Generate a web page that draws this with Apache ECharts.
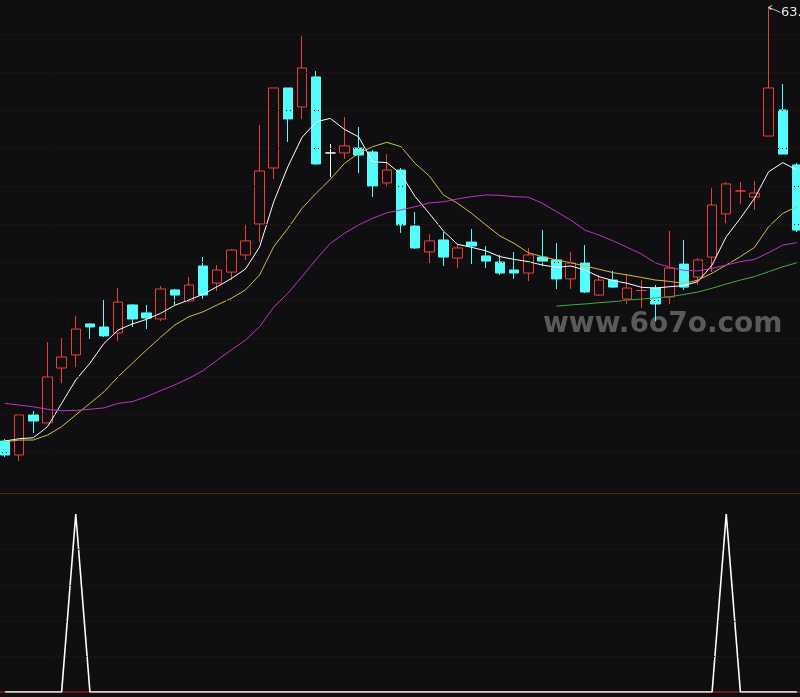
<html>
  <head>
    <meta charset="utf-8" />
    <title>K线</title>
    <style>
      html, body { margin: 0; padding: 0; background: #0f0f12; overflow: hidden; }
    </style>
  </head>
  <body>
    <div id="kline" style="width: 806px; height: 697px; margin-left: -2px"></div>
    <script src="https://cdn.jsdelivr.net/npm/echarts@6/dist/echarts.min.js"></script>
    <script type="text/javascript">
      // 日期（横轴不显示）
      var categories = ["1", "2", "3", "4", "5", "6", "7", "8", "9", "10",
        "11", "12", "13", "14", "15", "16", "17", "18", "19", "20",
        "21", "22", "23", "24", "25", "26", "27", "28", "29", "30",
        "31", "32", "33", "34", "35", "36", "37", "38", "39", "40",
        "41", "42", "43", "44", "45", "46", "47", "48", "49", "50",
        "51", "52", "53", "54", "55", "56", "57"];
      // [开, 收, 低, 高]
      var candles = [
        [40.58, 39.84, 39.74, 40.68], [39.84, 41.95, 39.53, 41.95], [41.95, 41.63, 41.0, 42.16],
        [41.53, 43.95, 41.53, 45.79], [44.42, 45.0, 43.63, 46.0], [45.11, 46.47, 44.47, 47.16],
        [46.74, 46.58, 45.95, 46.79], [46.58, 46.11, 46.05, 48.0], [46.26, 47.89, 45.84, 48.63],
        [47.74, 47.0, 46.58, 47.79], [47.32, 47.05, 46.47, 47.74], [47.0, 48.58, 46.89, 48.74],
        [48.53, 48.26, 47.74, 48.58], [47.95, 48.79, 47.89, 49.21], [49.79, 48.26, 48.05, 50.26],
        [48.89, 49.58, 48.47, 49.84], [49.47, 50.63, 49.05, 50.68], [50.37, 51.11, 50.11, 51.95],
        [52.0, 54.79, 51.05, 57.21], [54.95, 59.16, 54.37, 59.16], [59.16, 57.53, 56.32, 59.16],
        [58.16, 60.21, 57.53, 61.89], [59.74, 55.16, 55.11, 60.05], [55.74, 55.74, 54.47, 56.21],
        [55.74, 56.11, 55.42, 57.63], [56.0, 55.63, 54.68, 57.11], [55.79, 54.0, 53.42, 55.89],
        [54.16, 54.84, 54.0, 55.68], [54.84, 51.95, 51.53, 54.95], [51.89, 50.74, 50.68, 52.63],
        [50.53, 51.11, 49.95, 51.47], [51.16, 50.26, 49.79, 51.58], [50.21, 50.74, 49.68, 50.95],
        [51.05, 50.84, 49.89, 51.74], [50.32, 50.05, 49.68, 50.84], [50.0, 49.42, 49.32, 50.37],
        [49.58, 49.42, 49.11, 50.53], [49.42, 50.37, 49.0, 50.74], [50.26, 50.05, 49.79, 51.68],
        [50.11, 49.11, 48.58, 51.0], [49.11, 49.95, 48.58, 50.53], [49.95, 48.42, 48.37, 50.89],
        [48.26, 49.05, 48.21, 49.32], [49.05, 48.68, 48.63, 49.53], [48.05, 48.63, 47.79, 49.37],
        [48.5, 48.5, 47.58, 49.05], [48.63, 47.79, 46.89, 48.79], [48.16, 49.68, 47.79, 51.63],
        [49.89, 48.68, 48.53, 51.16], [49.21, 50.11, 48.79, 50.21], [50.26, 53.0, 49.47, 53.89],
        [52.53, 54.11, 52.05, 54.21], [53.74, 53.74, 53.05, 54.21], [53.42, 53.63, 52.74, 54.26],
        [56.63, 59.16, 56.63, 63.42], [58.0, 55.68, 55.68, 59.37], [55.11, 51.68, 51.58, 55.21]
      ];
      var ma5 = [40.58, 40.7, 40.75, 41.33, 42.56, 43.79, 44.67, 45.72, 46.42, 46.74,
        46.98, 47.3, 47.72, 48.0, 48.3, 48.7, 49.13, 49.63, 50.79, 53.17,
        55.02, 56.56, 57.38, 57.56, 56.98, 56.59, 55.28, 55.23, 54.63, 53.44,
        52.56, 51.63, 50.93, 50.77, 50.59, 50.28, 50.14, 50.02, 49.84, 49.72,
        49.79, 49.58, 49.23, 49.02, 48.88, 48.67, 48.63, 48.7, 48.76, 48.97,
        49.84, 51.33, 52.3, 53.35, 54.75, 55.23, 54.84];
      var ma10 = [40.54, 40.63, 40.63, 40.89, 41.33, 41.95, 42.56, 43.17, 43.96, 44.67,
        45.37, 46.04, 46.68, 47.12, 47.38, 47.74, 48.09, 48.53, 49.32, 50.81,
        51.77, 52.83, 53.62, 54.35, 55.19, 55.72, 56.07, 56.3, 56.07, 55.19,
        54.53, 53.53, 53.09, 52.56, 51.95, 51.37, 50.98, 50.49, 50.28, 50.11,
        49.96, 49.79, 49.62, 49.44, 49.32, 49.19, 49.05, 48.98, 48.87, 49.05,
        49.41, 49.84, 50.28, 50.77, 51.86, 52.56, 52.91];
      var ma20 = [42.56, 42.47, 42.38, 42.25, 42.17, 42.19, 42.25, 42.32, 42.56, 42.65,
        42.91, 43.23, 43.53, 43.88, 44.28, 44.84, 45.37, 45.89, 46.59, 47.63,
        48.35, 49.23, 50.14, 50.98, 51.51, 51.95, 52.3, 52.59, 52.74, 52.91,
        53.11, 53.17, 53.32, 53.44, 53.53, 53.51, 53.44, 53.41, 53.09, 52.65,
        52.21, 51.68, 51.42, 51.11, 50.77, 50.42, 49.95, 49.72, 49.56, 49.53,
        49.67, 49.84, 50.02, 50.14, 50.49, 50.89, 51.02];
      var ma60 = [null, null, null, null, null, null, null, null, null, null,
        null, null, null, null, null, null, null, null, null, null,
        null, null, null, null, null, null, null, null, null, null,
        null, null, null, null, null, null, null, null, null, 47.68,
        47.74, 47.79, 47.86, 47.91, 48.0, 48.05, 48.11, 48.17, 48.29, 48.42,
        48.62, 48.84, 49.05, 49.23, 49.49, 49.75, 49.96];
      // 副图信号
      var signal = [0, 0, 0, 0, 0, 100, 0, 0, 0, 0,
        0, 0, 0, 0, 0, 0, 0, 0, 0, 0,
        0, 0, 0, 0, 0, 0, 0, 0, 0, 0,
        0, 0, 0, 0, 0, 0, 0, 0, 0, 0,
        0, 0, 0, 0, 0, 0, 0, 0, 0, 0,
        0, 100, 0, 0, 0, 0, 0];
      // 网格价位
      var priceLevels = [40, 42, 44, 46, 48, 50, 52, 54, 56, 58, 60, 62];
      var signalLevels = [20, 40, 60, 80];
      var signalMax = 111.8;

      var bg = "#0f0f12";
      var upColor = "#ee3d3a";
      var downColor = "#54fcfc";
      var gridDot = "#4a1616";
      var frameColor = "#6e1616";
      // 十字星颜色
      var dojiColor = { 23: "#ffffff", 45: upColor, 52: upColor };

      var candleData = candles.map(function(c, i) {
        if (dojiColor[i]) {
          return {
            value: c,
            itemStyle: {
              color: bg, color0: bg,
              borderColor: dojiColor[i], borderColor0: dojiColor[i],
              borderColorDoji: dojiColor[i]
            }
          };
        }
        return c;
      });

      function levelLines(levels) {
        return {
          silent: true, symbol: "none", label: { show: false },
          lineStyle: { color: gridDot, type: [1, 3], width: 1 },
          data: levels.map(function(v) { return { yAxis: v }; })
        };
      }

      // 副图：虚线网格 + 顶部分隔线
      var signalLines = levelLines(signalLevels);
      signalLines.data.push({
        yAxis: signalMax,
        lineStyle: { color: frameColor, type: "solid", width: 1 }
      });

      var kChart = echarts.init(document.getElementById("kline"));
      var option = {
        backgroundColor: bg,
        animation: false,
        graphic: [
          {
            type: "text",
            left: 545,
            top: 311,
            z: 1,
            style: {
              text: "www.6o7o.com",
              fill: "#5a5a5a",
              font: 'bold 28px "DejaVu Sans"'
            }
          }
        ],
        grid: [
          { left: 0, right: 0, top: 0, height: 490 },
          { left: 0, right: 0, top: 493, height: 199 }
        ],
        xAxis: [
          {
            type: "category", gridIndex: 0, data: categories, boundaryGap: true,
            axisLine: { show: false },
            axisTick: { show: false }, axisLabel: { show: false }, splitLine: { show: false }
          },
          {
            type: "category", gridIndex: 1, data: categories, boundaryGap: true,
            offset: 3,
            axisLine: { lineStyle: { color: frameColor, width: 2 } },
            axisTick: { show: false }, axisLabel: { show: false }, splitLine: { show: false }
          }
        ],
        yAxis: [
          {
            type: "value", gridIndex: 0, min: 38, max: 63.79,
            axisLine: { show: false }, axisTick: { show: false }, axisLabel: { show: false },
            splitLine: { show: false }
          },
          {
            type: "value", gridIndex: 1, min: 0, max: signalMax,
            axisLine: { show: false }, axisTick: { show: false }, axisLabel: { show: false },
            splitLine: { show: false }
          }
        ],
        series: [
          {
            type: "candlestick",
            xAxisIndex: 0, yAxisIndex: 0,
            data: candleData,
            barWidth: 10,
            itemStyle: {
              color: bg,
              color0: downColor,
              borderColor: upColor,
              borderColor0: downColor,
              borderWidth: 1
            },
            markLine: levelLines(priceLevels),
            markPoint: {
              symbol: "path://M0,0 L14,6 M0,0 L4,-2 M0,0 L3,3",
              symbolSize: [12, 7],
              symbolOffset: [6, 2],
              itemStyle: { color: "none", borderColor: "#dddddd", borderWidth: 1 },
              label: {
                show: true, position: "right", distance: 1, offset: [-4, 4],
                color: "#e8e8e8", fontSize: 13, fontFamily: "DejaVu Sans",
                formatter: "{c}"
              },
              data: [{ coord: [categories[54], candles[54][3]], value: candles[54][3].toFixed(2) }]
            }
          },
          {
            type: "line", name: "MA5", data: ma5, showSymbol: false,
            lineStyle: { color: "#ffffff", width: 1 }, itemStyle: { color: "#ffffff" }, z: 3
          },
          {
            type: "line", name: "MA10", data: ma10, showSymbol: false,
            lineStyle: { color: "#d2bd45", width: 1 }, itemStyle: { color: "#d2bd45" }, z: 3
          },
          {
            type: "line", name: "MA20", data: ma20, showSymbol: false,
            lineStyle: { color: "#c233c2", width: 1 }, itemStyle: { color: "#c233c2" }, z: 3
          },
          {
            type: "line", name: "MA60", data: ma60, showSymbol: false,
            lineStyle: { color: "#3fae3f", width: 1 }, itemStyle: { color: "#3fae3f" }, z: 3
          },
          {
            type: "line", name: "信号", xAxisIndex: 1, yAxisIndex: 1,
            data: signal, showSymbol: false,
            lineStyle: { color: "#ffffff", width: 1.6 }, itemStyle: { color: "#ffffff" },
            markLine: signalLines
          }
        ]
      };
      kChart.setOption(option);
    </script>
  </body>
</html>
